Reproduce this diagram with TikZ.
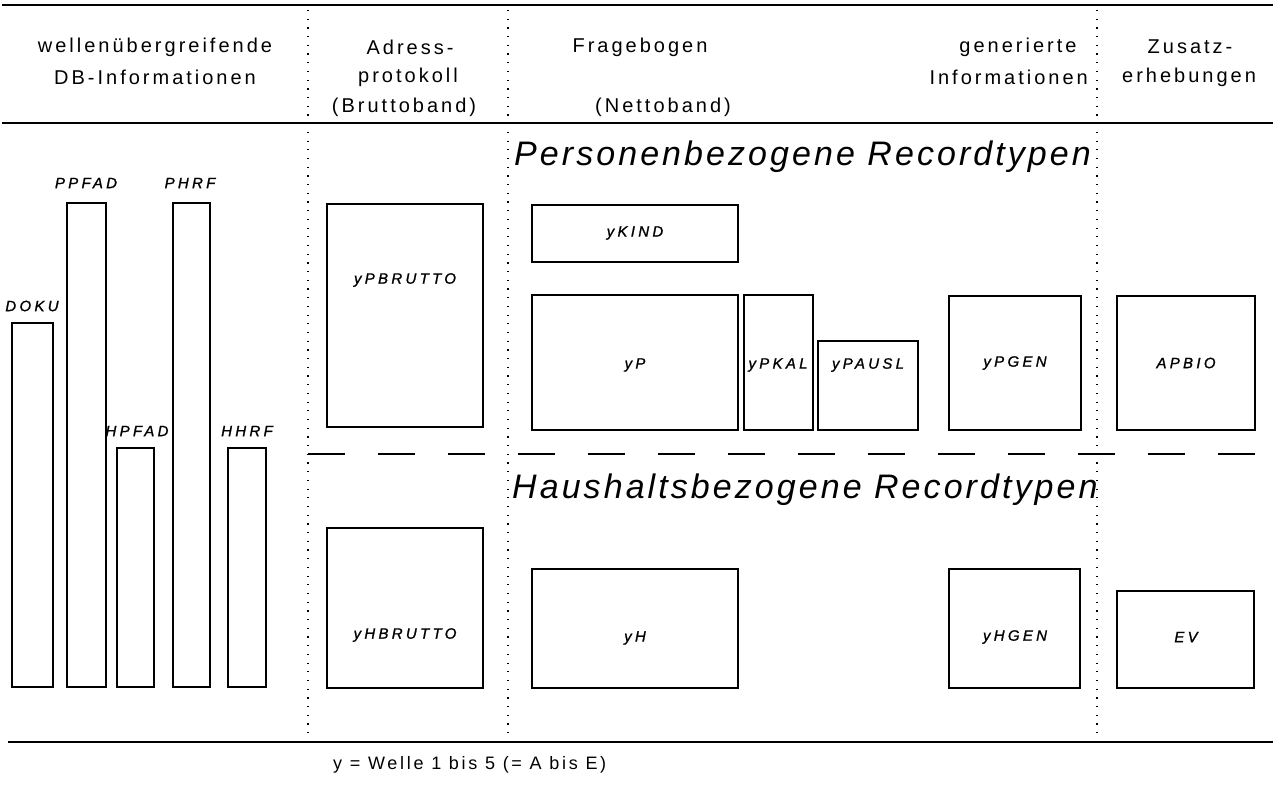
\documentclass[tikz,border=0pt]{standalone}
\usepackage{fontspec}
\setmainfont{Liberation Sans}
\newfontfamily\headfont{Liberation Sans}[LetterSpace=15]
\newfontfamily\recfont{Liberation Sans}[LetterSpace=22, FakeBold=1.2]
\newfontfamily\bigfont{Liberation Sans}[LetterSpace=9]
\usepackage{tikz}
\usetikzlibrary{positioning}

\tikzset{
  rec/.style={draw, line width=1.3pt},
  head/.style={font=\headfont\fontsize{20}{24}\selectfont, inner sep=0pt},
  lbl/.style={font=\recfont\itshape\fontsize{15}{17}\selectfont, inner sep=0pt},
  bigtxt/.style={font=\bigfont\itshape\fontsize{34}{40}\selectfont, inner sep=0pt, anchor=base west},
  rule/.style={line width=1.8pt},
  colsep/.style={line width=1.3pt, dash pattern=on 1.2pt off 7.5pt},
  split/.style={line width=1.8pt, dash pattern=on 37pt off 33pt}
}

\begin{document}
\begin{tikzpicture}[x=1pt, y=-1pt]
\useasboundingbox (0,0) rectangle (1273,784);

% rules
\draw[rule] (2,5) -- (1273,5);
\draw[rule] (2,123) -- (1273,123);
\draw[rule] (8,742) -- (1273,742);
\draw[colsep] (308,10) -- (308,740);
\draw[colsep] (508,10) -- (508,740);
\draw[colsep] (1097,10) -- (1097,740);
\draw[split] (308,454) -- (1273,454);

% column heads
\node[head](w1) at (155,47) {wellenübergreifende};
\node[head](w2) at (155,77) {DB-Informationen};
\node[head](a1) at (410,47) {Adress-};
\node[head](a2) at (408,77) {protokoll};
\node[head](a3) at (404,107) {(Bruttoband)};
\node[head](f1) at (640,47) {Fragebogen};
\node[head](f2) at (663,107) {(Nettoband)};
\node[head](g1) at (1018,47) {generierte};
\node[head, anchor=east](g2) at (1088,77) {Informationen};
\node[head](z1) at (1190,47) {Zusatz-};
\node[head](z2) at (1189,77) {erhebungen};

% record groups
\node[bigtxt](pers) at (514,165) {Personenbezogene Recordtypen};
\node[bigtxt](haus) at (512,498) {Haushaltsbezogene Recordtypen};

% wave independent files
\draw[rec] (12,323) rectangle (53,687);
\node[lbl](doku) at (32,306) {DOKU};
\draw[rec] (67,203) rectangle (106,687);
\node[lbl](ppfad) at (86,183) {PPFAD};
\draw[rec] (117,448) rectangle (154,687);
\node[lbl](hpfad) at (137,431) {HPFAD};
\draw[rec] (173,203) rectangle (210,687);
\node[lbl](phrf) at (190,183) {PHRF};
\draw[rec] (228,448) rectangle (266,687);
\node[lbl](hhrf) at (247,431) {HHRF};

% person records
\draw[rec] (327,204) rectangle (483,427);
\node[lbl](pbrutto) at (405,280) {yPBRUTTO};
\draw[rec] (532,205) rectangle (738,262);
\node[lbl](kind) at (635,233) {yKIND};
\draw[rec] (532,295) rectangle (738,430);
\node[lbl](p) at (635,365) {yP};
\draw[rec] (744,295) rectangle (813,430);
\node[lbl](pkal) at (778,365) {yPKAL};
\draw[rec] (818,341) rectangle (918,430);
\node[lbl](pausl) at (868,365) {yPAUSL};
\draw[rec] (949,296) rectangle (1081,430);
\node[lbl](pgen) at (1015,363) {yPGEN};
\draw[rec] (1117,296) rectangle (1255,430);
\node[lbl](apbio) at (1186,363) {APBIO};

% household records
\draw[rec] (327,528) rectangle (483,688);
\node[lbl](hbrutto) at (405,635) {yHBRUTTO};
\draw[rec] (532,569) rectangle (738,688);
\node[lbl](h) at (635,638) {yH};
\draw[rec] (949,569) rectangle (1080,688);
\node[lbl](hgen) at (1015,637) {yHGEN};
\draw[rec] (1117,591) rectangle (1254,688);
\node[lbl](ev) at (1186,637) {EV};

% footnote
\node[head, font=\headfont\fontsize{18}{22}\selectfont, anchor=west](note) at (333,765) {y = Welle 1 bis 5 (= A bis E)};
\end{tikzpicture}
\end{document}
